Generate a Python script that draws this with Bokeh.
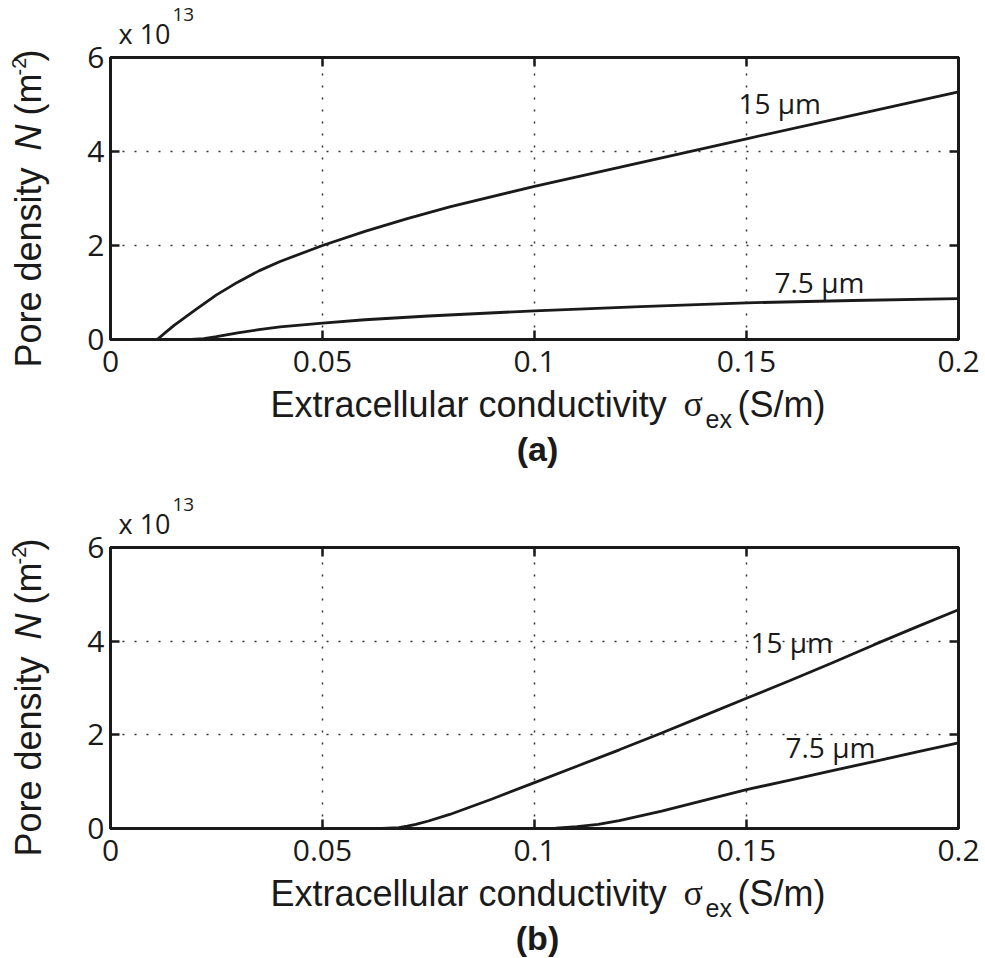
from bokeh.plotting import figure
from bokeh.layouts import column, row
from bokeh.models import (Range1d, LinearAxis, FixedTicker, CustomJSTickFormatter, Label, Grid)
from bokeh.embed import file_html
from bokeh.resources import INLINE
from math import pi

# Pore density (units of 1e13 m^-2) versus extracellular conductivity (S/m)
# (a)
sigma_a15 = [0.0, 0.011, 0.013, 0.015, 0.02, 0.025, 0.03, 0.035, 0.04, 0.05, 0.06, 0.07, 0.08, 0.1, 0.12, 0.15, 0.175, 0.2]
n_a15 = [0.0, 0.0, 0.15, 0.3, 0.63, 0.95, 1.22, 1.46, 1.66, 2.0, 2.3, 2.57, 2.82, 3.26, 3.66, 4.27, 4.77, 5.27]
sigma_a75 = [0.0, 0.019, 0.022, 0.025, 0.03, 0.035, 0.04, 0.05, 0.06, 0.075, 0.1, 0.125, 0.15, 0.175, 0.2]
n_a75 = [0.0, 0.0, 0.02, 0.06, 0.14, 0.21, 0.27, 0.35, 0.42, 0.5, 0.61, 0.7, 0.78, 0.83, 0.87]
# (b)
sigma_b15 = [0.0, 0.064, 0.068, 0.07, 0.072, 0.075, 0.08, 0.09, 0.1, 0.11, 0.12, 0.13, 0.14, 0.15, 0.16, 0.17, 0.18, 0.19, 0.2]
n_b15 = [0.0, 0.0, 0.02, 0.05, 0.09, 0.16, 0.3, 0.63, 0.98, 1.33, 1.68, 2.04, 2.41, 2.78, 3.15, 3.53, 3.92, 4.3, 4.67]
sigma_b75 = [0.0, 0.1, 0.105, 0.11, 0.115, 0.12, 0.13, 0.14, 0.15, 0.16, 0.17, 0.18, 0.19, 0.2]
n_b75 = [0.0, 0.0, 0.01, 0.04, 0.09, 0.17, 0.37, 0.6, 0.83, 1.03, 1.23, 1.43, 1.63, 1.83]

x_ticks = [0, 0.05, 0.1, 0.15, 0.2]
y_ticks = [0, 2, 4, 6]
curve_labels = ["15 \u03bcm", "7.5 \u03bcm"]

SANS = "Liberation Sans"
TICKFONT = "Open Sans"
INK = "#1a1a1a"

W = 985
LEFT_W = 62                 # strip holding the rotated y title
FRAME_L, FRAME_R = 110, 958
X0, X1 = 0.0, 0.2
Y0, Y1 = 0.0, 6.0
TOP_GAP = 13                # panel border above the frame
BOTTOM_GAP = 50             # panel border below the frame (tick labels)
DROP = 0.37                 # alphabetic anchor correction, in em


def strip(x0, y0, w, h, frame_x=None):
    """A blank figure whose data space is page pixels (y downwards)."""
    xr = Range1d(*(frame_x if frame_x else (x0, x0 + w)))
    s = figure(width=w, height=h, output_backend="svg", toolbar_location=None,
               x_range=xr, y_range=Range1d(y0 + h, y0),
               min_border=0, x_axis_type=None, y_axis_type=None)
    if frame_x:
        s.min_border_left = frame_x[0] - x0
        s.min_border_right = x0 + w - frame_x[1]
    s.outline_line_color = None
    s.background_fill_color = "white"
    s.border_fill_color = "white"
    return s


def txt(fig, text, x, y, font=SANS, size=36, style="normal", align="left", angle=0.0):
    """Place text by its baseline position given in page pixels."""
    d = DROP * size
    if angle:
        x -= d
    else:
        y -= d
    fig.add_layout(Label(x=x, y=y, text=text, text_font=font, text_font_size=f"{size}px",
                         text_font_style=style, text_color=INK, text_align=align,
                         text_baseline="alphabetic", angle=angle))


def make_panel(page_top, height, frame_top, frame_bottom, curves, tag_pos, letter):
    top_h = frame_top - TOP_GAP - page_top
    plot_h = TOP_GAP + (frame_bottom - frame_top) + BOTTOM_GAP
    bot_h = height - top_h - plot_h
    plot_w = W - LEFT_W

    p = figure(width=plot_w, height=plot_h, output_backend="svg", toolbar_location=None,
               x_range=Range1d(X0, X1), y_range=Range1d(Y0, Y1),
               min_border_left=FRAME_L - LEFT_W, min_border_right=W - FRAME_R,
               min_border_top=TOP_GAP, min_border_bottom=BOTTOM_GAP,
               x_axis_type=None, y_axis_type=None)
    p.background_fill_color = "white"
    p.border_fill_color = "white"
    p.outline_line_color = INK
    p.outline_line_width = 3

    shown = CustomJSTickFormatter(code="return tick.toString();")
    hidden = CustomJSTickFormatter(code="return '';")
    for side in ("below", "left", "above", "right"):
        ticks = x_ticks if side in ("below", "above") else y_ticks
        labelled = side in ("below", "left")
        ax = LinearAxis(ticker=FixedTicker(ticks=ticks), formatter=shown if labelled else hidden)
        ax.axis_line_color = INK
        ax.axis_line_width = 3
        ax.major_tick_line_color = INK
        ax.major_tick_line_width = 2.5
        ax.major_tick_in = 9
        ax.major_tick_out = 0
        ax.minor_tick_line_color = None
        ax.major_label_text_font = TICKFONT
        ax.major_label_text_color = INK
        if labelled:
            ax.major_label_text_font_size = "30px"
            ax.major_label_standoff = 11 if side == "below" else 6
        else:
            ax.major_label_text_font_size = "2px"
            ax.major_label_standoff = 0
        p.add_layout(ax, side)

    for dim, ticks in ((0, x_ticks), (1, y_ticks)):
        p.add_layout(Grid(dimension=dim, ticker=FixedTicker(ticks=ticks),
                          grid_line_color="#333333", grid_line_width=1.5,
                          grid_line_dash="2 10"))

    for xs, ys in curves:
        p.line(xs, ys, line_color=INK, line_width=2.8)

    # curve tags, placed in data space from page-pixel baselines
    for text, (px, py) in zip(curve_labels, tag_pos):
        py -= DROP * 28
        x = X0 + (px - FRAME_L) / (FRAME_R - FRAME_L) * (X1 - X0)
        y = Y0 + (frame_bottom - py) / (frame_bottom - frame_top) * (Y1 - Y0)
        p.add_layout(Label(x=x, y=y, text=text, text_font=TICKFONT, text_font_size="28px",
                           text_color=INK, text_align="left", text_baseline="alphabetic"))

    # exponent above the y axis
    top = strip(LEFT_W, page_top, plot_w, top_h, frame_x=(FRAME_L, FRAME_R))
    txt(top, "x 10", 118, frame_top - 14, font=TICKFONT, size=27)
    txt(top, "13", 172, frame_top - 36, font=TICKFONT, size=19)

    # x axis title and panel letter
    bot = strip(LEFT_W, page_top + top_h + plot_h, plot_w, bot_h, frame_x=(FRAME_L, FRAME_R))
    base = frame_bottom + 78
    txt(bot, "Extracellular conductivity", 270, base)
    txt(bot, "\u03c3", 683, base, font="Liberation Serif")
    txt(bot, "ex", 705, base + 11, size=25)
    txt(bot, "(S/m)", 737, base)
    txt(bot, letter, 537, frame_bottom + 122, size=34, style="bold", align="center")

    # rotated y axis title
    left = strip(0, page_top, LEFT_W, height)
    bx = 41
    start = frame_bottom + 28
    txt(left, "Pore density", bx, start, angle=pi / 2)
    txt(left, "N", bx, start - 217, style="italic", angle=pi / 2)
    txt(left, "(m", bx, start - 252, angle=pi / 2)
    txt(left, "-2", bx - 15, start - 292, size=20, angle=pi / 2)
    txt(left, ")", bx, start - 306, angle=pi / 2)

    return row(left, column(top, p, bot, spacing=0), spacing=0)


panel_a = make_panel(0, 470, 57, 339, [(sigma_a15, n_a15), (sigma_a75, n_a75)],
                     [(738, 113), (774, 292)], "(a)")
panel_b = make_panel(470, 488, 547, 828, [(sigma_b15, n_b15), (sigma_b75, n_b75)],
                     [(750, 652), (785, 757)], "(b)")

layout = column(panel_a, panel_b, spacing=0)
open("out.html", "w").write(file_html(layout, INLINE))
